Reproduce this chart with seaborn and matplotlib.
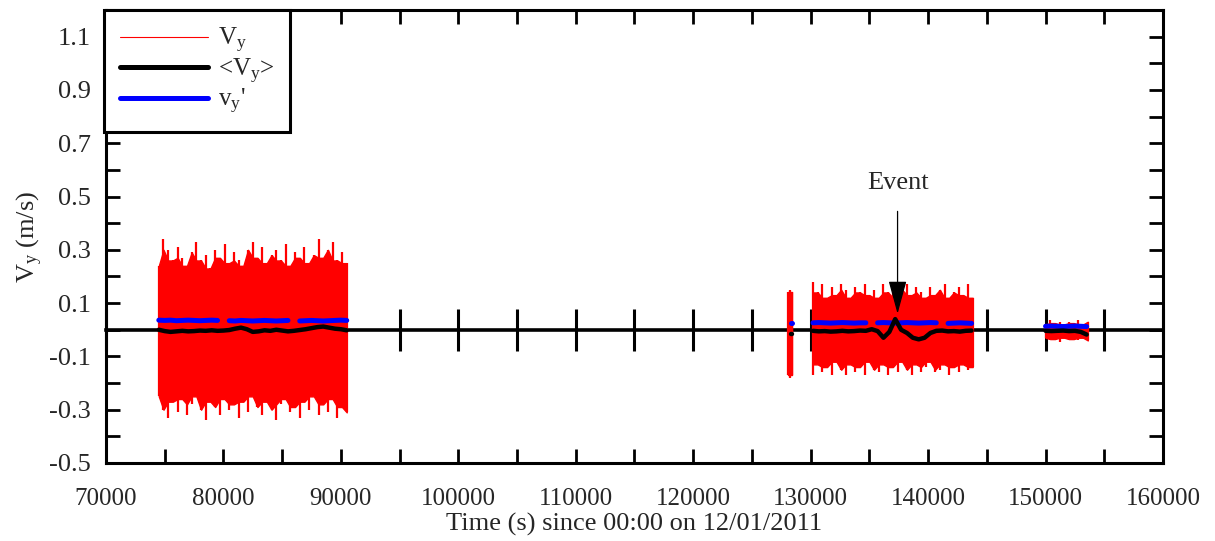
import numpy as np
import pandas as pd
import matplotlib
matplotlib.use("Agg")
import matplotlib.pyplot as plt
from matplotlib.lines import Line2D
from matplotlib.ticker import MultipleLocator, FixedLocator
import seaborn as sns

# ---------------- data ----------------
# Red V_y signal: hand-read swing peaks (upper / lower) per record segment
t1_start, t1_stop, t1_step = 74500, 90500, 400
vy1_up = [0.24, 0.34, 0.30, 0.26, 0.31, 0.27, 0.24, 0.29, 0.33, 0.26, 0.28, 0.23, 0.30, 0.27,
          0.32, 0.25, 0.29, 0.26, 0.24, 0.30, 0.33, 0.27, 0.31, 0.25, 0.28, 0.30, 0.26, 0.32,
          0.24, 0.29, 0.27, 0.31, 0.25, 0.28, 0.34, 0.27, 0.30, 0.33, 0.26, 0.29, 0.25]
vy1_lo = [-0.25, -0.30, -0.33, -0.27, -0.31, -0.26, -0.32, -0.28, -0.25, -0.30, -0.34, -0.27,
          -0.29, -0.32, -0.26, -0.30, -0.28, -0.33, -0.27, -0.31, -0.25, -0.29, -0.32, -0.27,
          -0.30, -0.34, -0.28, -0.26, -0.31, -0.29, -0.33, -0.27, -0.30, -0.25, -0.32, -0.28,
          -0.31, -0.26, -0.33, -0.29, -0.31]

t2 = [128050, 128250, 128450]
vy2_up = [0.14, 0.15, 0.14]
vy2_lo = [-0.17, -0.18, -0.17]

t3_start, t3_stop, t3_step = 130200, 143800, 400
vy3_up = [0.18, 0.14, 0.17, 0.12, 0.16, 0.13, 0.17, 0.15, 0.12, 0.16, 0.14, 0.17, 0.13, 0.15,
          0.12, 0.17, 0.14, 0.16, 0.12, 0.15, 0.17, 0.13, 0.16, 0.14, 0.12, 0.16, 0.13, 0.15,
          0.17, 0.12, 0.14, 0.16, 0.13, 0.17, 0.12]
vy3_lo = [-0.17, -0.13, -0.16, -0.14, -0.17, -0.12, -0.15, -0.17, -0.13, -0.16, -0.14, -0.17,
          -0.12, -0.15, -0.16, -0.13, -0.17, -0.14, -0.16, -0.12, -0.15, -0.17, -0.13, -0.16,
          -0.14, -0.12, -0.16, -0.15, -0.13, -0.17, -0.14, -0.16, -0.13, -0.15, -0.14]

t4_start, t4_stop, t4_step = 150000, 153600, 400
vy4_up = [0.02, 0.035, 0.025, 0.03, 0.02, 0.03, 0.025, 0.035, 0.02, 0.03]
vy4_lo = [-0.03, -0.04, -0.035, -0.045, -0.03, -0.04, -0.035, -0.04, -0.03, -0.04]

# Black <V_y> (running mean) and blue v_y' (NaN = gap), sampled every 500 s
m1_start, m1_stop = 74500, 90500
mean1 = [0.0, -0.005, -0.008, -0.006, -0.004, -0.006, -0.005, -0.003, -0.004, -0.002, -0.004,
         -0.003, -0.001, 0.004, 0.008, 0.002, -0.008, -0.006, -0.002, -0.004, 0.0, -0.003,
         -0.006, -0.004, -0.001, 0.002, 0.006, 0.010, 0.012, 0.008, 0.004, 0.002, -0.002]
prime1 = [0.036, 0.035, 0.036, 0.034, 0.035, 0.036, 0.035, 0.034, 0.035, 0.036, 0.035, np.nan,
          0.034, 0.033, 0.035, 0.034, 0.033, 0.034, 0.035, 0.034, 0.033, 0.034, 0.035, np.nan,
          0.033, 0.034, 0.035, 0.034, 0.033, 0.034, 0.035, 0.036, 0.035]

m2_t = [128330, 128430]
mean2 = [-0.015, -0.015]
prime2 = [0.027, 0.027]

m3_start, m3_stop = 130200, 143700
mean3 = [-0.004, -0.006, -0.005, -0.007, -0.006, -0.004, -0.006, -0.005, -0.003, -0.004,
         0.002, -0.005, -0.030, -0.008, 0.040, 0.0, -0.012, -0.030, -0.036, -0.030, -0.012,
         -0.004, -0.003, -0.006, -0.005, -0.007, -0.004, -0.003]
prime3 = [0.026, 0.027, 0.026, 0.025, 0.026, 0.027, 0.026, 0.025, 0.026, 0.026, np.nan,
          0.026, 0.027, 0.026, 0.025, 0.026, 0.027, 0.026, 0.025, 0.026, 0.027, 0.026, np.nan,
          0.024, 0.025, 0.026, 0.025, 0.024]

m4_start, m4_stop = 150000, 153500
mean4 = [-0.004, -0.005, -0.004, -0.003, -0.005, -0.004, -0.008, -0.018]
prime4 = [0.013, 0.014, 0.013, 0.012, 0.013, 0.014, 0.013, 0.012]

event_t, event_v, event_text_v = 137400, 0.06, 0.55

x_ticks = [70000, 80000, 90000, 100000, 110000, 120000, 130000, 140000, 150000, 160000]
y_ticks = [-0.5, -0.3, -0.1, 0.1, 0.3, 0.5, 0.7, 0.9, 1.1]
y_ticklabels = ["-0.5", "-0.3", "-0.1", "0.1", "0.3", "0.5", "0.7", "0.9", "1.1"]

# ---------------- build tables ----------------
def grid(a, b, s):
    return np.arange(a, b + 1, s)

red_segments = [
    (grid(t1_start, t1_stop, t1_step), vy1_up, vy1_lo),
    (np.array(t2), vy2_up, vy2_lo),
    (grid(t3_start, t3_stop, t3_step), vy3_up, vy3_lo),
    (grid(t4_start, t4_stop, t4_step), vy4_up, vy4_lo),
]

mean_rows, prime_rows = [], []
seg_defs = [
    (grid(m1_start, m1_stop, 500), mean1, prime1),
    (np.array(m2_t), mean2, prime2),
    (grid(m3_start, m3_stop, 500), mean3, prime3),
    (grid(m4_start, m4_stop, 500), mean4, prime4),
]
uid = 0
for si, (tt, mm, pp) in enumerate(seg_defs):
    for t, m in zip(tt, mm):
        mean_rows.append((t, m, si))
    for t, p in zip(tt, pp):
        if np.isnan(p):
            uid += 1
            continue
        prime_rows.append((t, p, uid))
    uid += 1
mean_df = pd.DataFrame(mean_rows, columns=["t", "v", "seg"])
prime_df = pd.DataFrame(prime_rows, columns=["t", "v", "seg"])

# ---------------- style ----------------
sns.set_theme(style="ticks")
plt.rcParams["font.family"] = ["Liberation Serif", "DejaVu Serif"]
plt.rcParams["mathtext.fontset"] = "custom"
plt.rcParams["mathtext.rm"] = "Liberation Serif"
plt.rcParams["mathtext.it"] = "Liberation Serif:italic"
plt.rcParams["path.simplify"] = False

fig = plt.figure(figsize=(12.15, 5.41), dpi=100)
ax = fig.add_axes([0.0872, 0.1442, 0.8700, 0.8373])

# red record: solid body between neighbouring swings + needle-like swing peaks
for tt, up, lo in red_segments:
    up = np.asarray(up, float)
    lo = np.asarray(lo, float)
    body_up = np.minimum(up, np.r_[up[1:], up[-1]])
    body_lo = np.maximum(lo, np.r_[lo[1:], lo[-1]])
    ax.fill_between(tt, body_lo, body_up, color="#ff0000", linewidth=1.0,
                    edgecolor="#ff0000", zorder=2)
    ax.vlines(tt, lo, up, color="#ff0000", linewidth=1.6, zorder=2)

sns.lineplot(data=prime_df, x="t", y="v", units="seg", estimator=None, color="#0000ff",
             linewidth=3.6, solid_capstyle="round", ax=ax, zorder=3, legend=False)
sns.lineplot(data=mean_df, x="t", y="v", units="seg", estimator=None, color="black",
             linewidth=3.2, solid_capstyle="round", ax=ax, zorder=4, legend=False)

ax.set_xlim(70000, 160000)
ax.set_ylim(-0.5, 1.2)

# axes / ticks
for sp in ax.spines.values():
    sp.set_visible(True)
    sp.set_linewidth(2.2)
    sp.set_color("black")
ax.xaxis.set_major_locator(FixedLocator(x_ticks))
ax.xaxis.set_minor_locator(MultipleLocator(5000))
ax.set_xticklabels([str(v) for v in x_ticks])
ax.yaxis.set_major_locator(FixedLocator(y_ticks))
ax.yaxis.set_minor_locator(MultipleLocator(0.1))
ax.set_yticklabels(y_ticklabels)
ax.tick_params(axis="both", which="both", direction="in", length=10, width=2.0,
               top=True, right=True, color="black")
ax.tick_params(axis="x", which="major", labelsize=18, pad=18)
ax.tick_params(axis="y", which="major", labelsize=19, pad=11)

# zero axis with in-out ticks
zero_frac = (0 - (-0.5)) / (1.2 - (-0.5))
sec = ax.secondary_xaxis(zero_frac)
sec.xaxis.set_major_locator(MultipleLocator(5000))
sec.tick_params(axis="x", direction="inout", length=30, width=2.2, labelbottom=False,
                labeltop=False, color="black")
sec.spines["bottom"].set_linewidth(2.6)
sec.spines["bottom"].set_color("black")
sec.set_xlabel("")

ax.set_xlabel("Time (s) since 00:00 on 12/01/2011", fontsize=19, labelpad=2)
ax.set_ylabel(r"V$_\mathrm{y}$ (m/s)", fontsize=19, labelpad=3)

# event annotation
ax.annotate("Event", xy=(event_t, event_v), xytext=(event_t, event_text_v),
            ha="center", va="center", fontsize=19,
            arrowprops=dict(arrowstyle="-|>,head_length=1.1,head_width=0.3",
                            color="black", lw=0.9, shrinkA=10, shrinkB=0),
            zorder=6)

handles = [
    Line2D([], [], color="#ff0000", lw=0.8),
    Line2D([], [], color="black", lw=3.6),
    Line2D([], [], color="#0000ff", lw=3.6),
]
labels = [r"V$_\mathrm{y}$", r"<V$_\mathrm{y}$>", r"v$_\mathrm{y}$'"]
leg = ax.legend(handles, labels, loc="upper left", bbox_to_anchor=(-0.002, 1.0),
                borderaxespad=0, fontsize=18, handlelength=3.5, handletextpad=0.4,
                labelspacing=0.05, frameon=True, fancybox=False, borderpad=0.65)
leg.get_frame().set_edgecolor("black")
leg.get_frame().set_linewidth(2.2)
leg.get_frame().set_alpha(1)
leg.set_zorder(10)

fig.savefig("out.png", dpi=100, facecolor="white")
